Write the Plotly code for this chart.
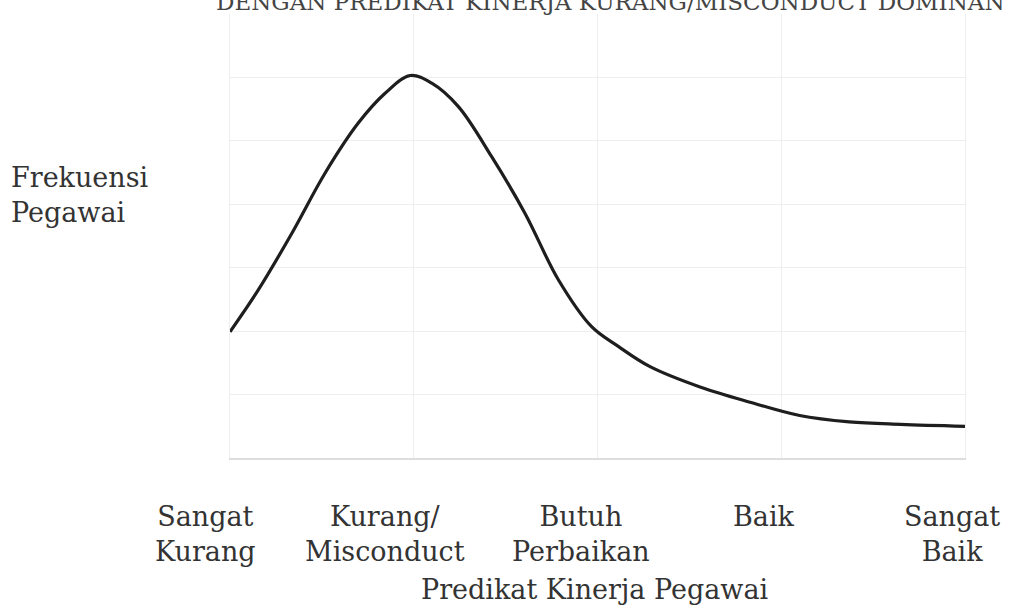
import plotly.graph_objects as go

# Categories on the x axis (positions 0..4)
categories = ["Sangat<br>Kurang", "Kurang/<br>Misconduct", "Butuh<br>Perbaikan", "Baik", "Sangat<br>Baik"]
cat_pos = [0, 1, 2, 3, 4]

# Curve (x in category units, y in grid units)
curve_x = [0.0, 0.154, 0.336, 0.517, 0.698, 0.844, 0.98, 1.098, 1.243, 1.424, 1.605, 1.787,
           1.968, 2.113, 2.286, 2.558, 2.83, 3.10, 3.37, 3.65, 4.0]
curve_y = [1.99, 2.65, 3.54, 4.49, 5.28, 5.75, 6.03, 5.91, 5.54, 4.75, 3.86, 2.81,
           2.07, 1.76, 1.44, 1.12, 0.88, 0.67, 0.57, 0.53, 0.50]

title_text = "DENGAN PREDIKAT KINERJA KURANG/MISCONDUCT DOMINAN"
y_title = "Frekuensi<br>Pegawai"
x_title = "Predikat Kinerja Pegawai"

FONT = "DejaVu Serif"
TXT = "#333333"
FS = 27

# per-label horizontal nudges (pixels) to match the reference placement
label_shift = [-25, -29, -17, -17, -13]

fig = go.Figure()
fig.add_trace(go.Scatter(
    x=curve_x, y=curve_y, mode="lines",
    line=dict(color="#1e1e1e", width=3.2, shape="spline", smoothing=1.0),
    showlegend=False, hoverinfo="skip"))

annotations = [
    dict(text=lab, x=pos, xref="x", y=0, yref="paper", yshift=-41, xshift=sh,
         showarrow=False, xanchor="center", yanchor="top", align="center",
         font=dict(family=FONT, size=FS, color=TXT))
    for lab, pos, sh in zip(categories, cat_pos, label_shift)
]
annotations += [
    dict(text=x_title, xref="paper", yref="paper", x=0.5, y=0, yshift=-131,
         xshift=-3, showarrow=False, xanchor="center", yanchor="middle",
         font=dict(family=FONT, size=FS, color=TXT)),
    dict(text=y_title, xref="paper", yref="paper", x=0, y=1, xshift=-221, yshift=-181,
         showarrow=False, xanchor="left", yanchor="middle", align="left",
         font=dict(family=FONT, size=FS, color=TXT)),
    dict(text=title_text, xref="paper", yref="paper", x=0, y=1, xshift=-16, yshift=12,
         showarrow=False, xanchor="left", yanchor="middle",
         font=dict(family=FONT, size=23, color="#444444")),
]

fig.update_layout(
    width=1015, height=605, autosize=False,
    margin=dict(l=230, r=50, t=14, b=147),
    paper_bgcolor="white", plot_bgcolor="white",
    font=dict(family=FONT, size=FS, color=TXT),
    xaxis=dict(range=[0, 4], tickvals=cat_pos, showticklabels=False,
               showgrid=True, gridcolor="#eeeeee", gridwidth=1,
               showline=True, linecolor="#dddddd", linewidth=2, mirror=False,
               ticks="", zeroline=False, fixedrange=True),
    yaxis=dict(range=[0, 7], dtick=1, showticklabels=False,
               showgrid=True, gridcolor="#eeeeee", gridwidth=1,
               showline=True, linecolor="#eeeeee", linewidth=1, mirror=True,
               zeroline=False, fixedrange=True),
    annotations=annotations,
)

fig.write_html("out.html", config={"displayModeBar": False},
               post_script="document.body.style.margin='0';document.body.style.padding='0';")
